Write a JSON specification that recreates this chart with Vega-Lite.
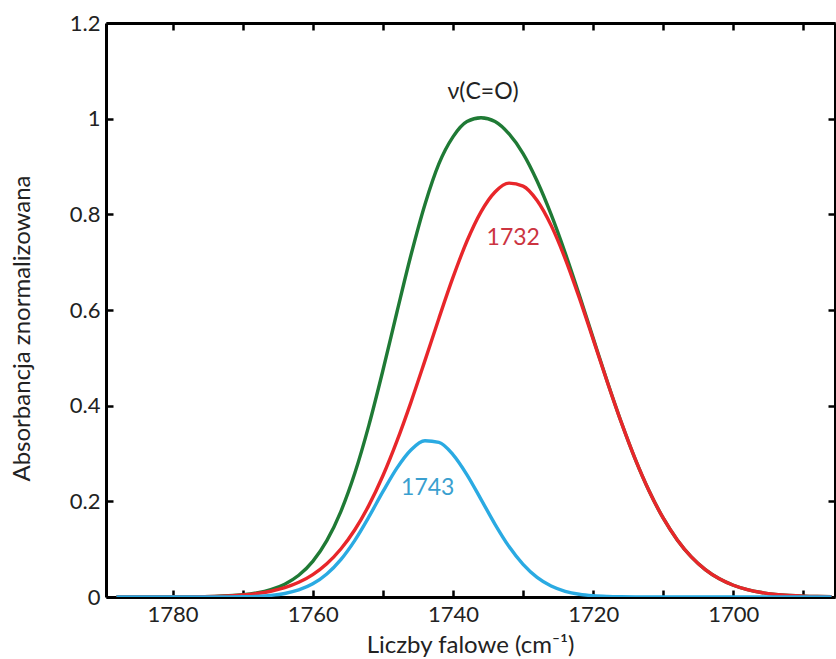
{
  "$schema": "https://vega.github.io/schema/vega-lite/v6.json",
  "width": 729,
  "height": 574,
  "autosize": "none",
  "padding": {"left": 106, "top": 23, "right": 1, "bottom": 62},
  "background": "white",
  "config": {
    "view": {"stroke": null},
    "font": "Lato",
    "axis": {
      "grid": false,
      "domainColor": "black",
      "domainWidth": 3,
      "tickColor": "black",
      "tickWidth": 2.5,
      "tickSize": -7,
      "labelFont": "Lato",
      "labelFontSize": 22,
      "labelColor": "#222222",
      "titleFont": "Lato",
      "titleFontSize": 24,
      "titleFontWeight": "normal",
      "titleColor": "#222222"
    }
  },
  "datasets": {
    "spectra": [
      {"x":1686,"y":0.0005,"s":"r"},{"x":1688,"y":0.001,"s":"r"},{"x":1690,"y":0.0018,"s":"r"},{"x":1692,"y":0.0032,"s":"r"},{"x":1694,"y":0.0055,"s":"r"},{"x":1696,"y":0.0094,"s":"r"},{"x":1698,"y":0.0154,"s":"r"},{"x":1700,"y":0.0246,"s":"r"},{"x":1702,"y":0.038,"s":"r"},{"x":1704,"y":0.0573,"s":"r"},{"x":1706,"y":0.0838,"s":"r"},{"x":1708,"y":0.1192,"s":"r"},{"x":1710,"y":0.1647,"s":"r"},{"x":1712,"y":0.2211,"s":"r"},{"x":1714,"y":0.2883,"s":"r"},{"x":1716,"y":0.3655,"s":"r"},{"x":1718,"y":0.4501,"s":"r"},{"x":1720,"y":0.5386,"s":"r"},{"x":1722,"y":0.6263,"s":"r"},{"x":1724,"y":0.7076,"s":"r"},{"x":1726,"y":0.7769,"s":"r"},{"x":1728,"y":0.8288,"s":"r"},{"x":1730,"y":0.859,"s":"r"},{"x":1732,"y":0.8652,"s":"r"},{"x":1734,"y":0.8468,"s":"r"},{"x":1736,"y":0.8053,"s":"r"},{"x":1738,"y":0.7442,"s":"r"},{"x":1740,"y":0.6681,"s":"r"},{"x":1742,"y":0.5829,"s":"r"},{"x":1744,"y":0.4941,"s":"r"},{"x":1746,"y":0.407,"s":"r"},{"x":1748,"y":0.3258,"s":"r"},{"x":1750,"y":0.2534,"s":"r"},{"x":1752,"y":0.1915,"s":"r"},{"x":1754,"y":0.1406,"s":"r"},{"x":1756,"y":0.1004,"s":"r"},{"x":1758,"y":0.0696,"s":"r"},{"x":1760,"y":0.0469,"s":"r"},{"x":1762,"y":0.0307,"s":"r"},{"x":1764,"y":0.0195,"s":"r"},{"x":1766,"y":0.0121,"s":"r"},{"x":1768,"y":0.0073,"s":"r"},{"x":1770,"y":0.0042,"s":"r"},{"x":1772,"y":0.0024,"s":"r"},{"x":1774,"y":0.0013,"s":"r"},{"x":1776,"y":0.0006,"s":"r"},{"x":1778,"y":0,"s":"r"},{"x":1782,"y":0,"s":"r"},{"x":1788,"y":0,"s":"r"},
      {"x":1686,"y":0,"s":"b"},{"x":1700,"y":0,"s":"b"},{"x":1710,"y":0,"s":"b"},{"x":1714,"y":0.0001,"s":"b"},{"x":1716,"y":0.0004,"s":"b"},{"x":1718,"y":0.0011,"s":"b"},{"x":1720,"y":0.0026,"s":"b"},{"x":1722,"y":0.0058,"s":"b"},{"x":1724,"y":0.012,"s":"b"},{"x":1726,"y":0.0229,"s":"b"},{"x":1728,"y":0.0409,"s":"b"},{"x":1730,"y":0.0681,"s":"b"},{"x":1732,"y":0.1054,"s":"b"},{"x":1734,"y":0.152,"s":"b"},{"x":1736,"y":0.2042,"s":"b"},{"x":1738,"y":0.2555,"s":"b"},{"x":1740,"y":0.2977,"s":"b"},{"x":1742,"y":0.3231,"s":"b"},{"x":1744,"y":0.3266,"s":"b"},{"x":1746,"y":0.3074,"s":"b"},{"x":1748,"y":0.2695,"s":"b"},{"x":1750,"y":0.2201,"s":"b"},{"x":1752,"y":0.1674,"s":"b"},{"x":1754,"y":0.1185,"s":"b"},{"x":1756,"y":0.0782,"s":"b"},{"x":1758,"y":0.0481,"s":"b"},{"x":1760,"y":0.0275,"s":"b"},{"x":1762,"y":0.0147,"s":"b"},{"x":1764,"y":0.0073,"s":"b"},{"x":1766,"y":0.0034,"s":"b"},{"x":1768,"y":0.0014,"s":"b"},{"x":1770,"y":0.0006,"s":"b"},{"x":1772,"y":0.0002,"s":"b"},{"x":1776,"y":0,"s":"b"},{"x":1788,"y":0,"s":"b"},
      {"x":1686,"y":0.0005,"s":"g"},{"x":1688,"y":0.001,"s":"g"},{"x":1690,"y":0.0018,"s":"g"},{"x":1692,"y":0.0032,"s":"g"},{"x":1694,"y":0.0055,"s":"g"},{"x":1696,"y":0.0094,"s":"g"},{"x":1698,"y":0.0154,"s":"g"},{"x":1700,"y":0.0246,"s":"g"},{"x":1702,"y":0.038,"s":"g"},{"x":1704,"y":0.0573,"s":"g"},{"x":1706,"y":0.0838,"s":"g"},{"x":1708,"y":0.1192,"s":"g"},{"x":1710,"y":0.1647,"s":"g"},{"x":1712,"y":0.2211,"s":"g"},{"x":1714,"y":0.2884,"s":"g"},{"x":1716,"y":0.3659,"s":"g"},{"x":1718,"y":0.4512,"s":"g"},{"x":1720,"y":0.5412,"s":"g"},{"x":1722,"y":0.6321,"s":"g"},{"x":1724,"y":0.7196,"s":"g"},{"x":1726,"y":0.7998,"s":"g"},{"x":1728,"y":0.8697,"s":"g"},{"x":1730,"y":0.9271,"s":"g"},{"x":1732,"y":0.968,"s":"g"},{"x":1734,"y":0.994,"s":"g"},{"x":1736,"y":1.002,"s":"g"},{"x":1738,"y":0.994,"s":"g"},{"x":1740,"y":0.962,"s":"g"},{"x":1742,"y":0.906,"s":"g"},{"x":1744,"y":0.8207,"s":"g"},{"x":1746,"y":0.7144,"s":"g"},{"x":1748,"y":0.5953,"s":"g"},{"x":1750,"y":0.4735,"s":"g"},{"x":1752,"y":0.3589,"s":"g"},{"x":1754,"y":0.2591,"s":"g"},{"x":1756,"y":0.1786,"s":"g"},{"x":1758,"y":0.1177,"s":"g"},{"x":1760,"y":0.0744,"s":"g"},{"x":1762,"y":0.0454,"s":"g"},{"x":1764,"y":0.0268,"s":"g"},{"x":1766,"y":0.0155,"s":"g"},{"x":1768,"y":0.0087,"s":"g"},{"x":1770,"y":0.0048,"s":"g"},{"x":1772,"y":0.0026,"s":"g"},{"x":1774,"y":0.0013,"s":"g"},{"x":1776,"y":0.0006,"s":"g"},{"x":1778,"y":0,"s":"g"},{"x":1782,"y":0,"s":"g"},{"x":1788,"y":0,"s":"g"}
    ],
    "labels": [
      {"x": 1735.7, "y": 1.056, "t": "ν(C=O)", "k": "g"},
      {"x": 1731.4, "y": 0.751, "t": "1732", "k": "r"},
      {"x": 1743.6, "y": 0.228, "t": "1743", "k": "b"}
    ]
  },
  "layer": [
    {
      "data": {"name": "spectra"},
      "transform": [{"filter": "datum.s == 'g'"}],
      "mark": {"type": "line", "color": "#1f7a35", "strokeWidth": 3.4, "interpolate": "monotone", "clip": true},
      "encoding": {
        "x": {
          "field": "x", "type": "quantitative",
          "scale": {"domain": [1685.5, 1789.5], "reverse": true, "nice": false, "zero": false},
          "axis": {
            "orient": "bottom",
            "values": [1690, 1700, 1710, 1720, 1730, 1740, 1750, 1760, 1770, 1780],
            "labelExpr": "datum.value % 20 == 0 ? datum.label : ''",
            "format": "d",
            "labelPadding": 14,
            "title": "Liczby falowe (cm⁻¹)",
            "titleX": 364,
            "titleY": 48,
            "titleBaseline": "middle"
          }
        },
        "y": {
          "field": "y", "type": "quantitative",
          "scale": {"domain": [0, 1.2], "nice": false},
          "axis": {
            "orient": "left",
            "values": [0, 0.2, 0.4, 0.6, 0.8, 1, 1.2],
            "format": "~g",
            "labelPadding": 13,
            "title": "Absorbancja znormalizowana",
            "titleX": -84,
            "titleY": 305,
            "titleAngle": -90,
            "titleBaseline": "middle"
          }
        }
      }
    },
    {
      "data": {"name": "spectra"},
      "transform": [{"filter": "datum.s == 'r'"}],
      "mark": {"type": "line", "color": "#e8262a", "strokeWidth": 3.4, "interpolate": "monotone", "clip": true},
      "encoding": {
        "x": {"field": "x", "type": "quantitative", "axis": null},
        "y": {"field": "y", "type": "quantitative", "axis": null}
      }
    },
    {
      "data": {"name": "spectra"},
      "transform": [{"filter": "datum.s == 'b'"}],
      "mark": {"type": "line", "color": "#2aaae2", "strokeWidth": 3.4, "interpolate": "monotone", "clip": true},
      "encoding": {
        "x": {"field": "x", "type": "quantitative", "axis": null},
        "y": {"field": "y", "type": "quantitative", "axis": null}
      }
    },
    {
      "data": {"name": "spectra"},
      "mark": {"type": "point", "opacity": 0},
      "encoding": {
        "x": {
          "field": "x", "type": "quantitative",
          "axis": {
            "orient": "top",
            "values": [1690, 1700, 1710, 1720, 1730, 1740, 1750, 1760, 1770, 1780],
            "labels": false,
            "title": null
          }
        },
        "y": {
          "field": "y", "type": "quantitative",
          "axis": {
            "orient": "right",
            "values": [0, 0.2, 0.4, 0.6, 0.8, 1, 1.2],
            "labels": false,
            "title": null
          }
        }
      }
    },
    {
      "data": {"name": "labels"},
      "transform": [{"filter": "datum.k == 'g'"}],
      "mark": {"type": "text", "fontSize": 23, "font": "Lato", "color": "#222222", "align": "center", "baseline": "middle"},
      "encoding": {
        "x": {"field": "x", "type": "quantitative", "axis": null},
        "y": {"field": "y", "type": "quantitative", "axis": null},
        "text": {"field": "t"}
      }
    },
    {
      "data": {"name": "labels"},
      "transform": [{"filter": "datum.k == 'r'"}],
      "mark": {"type": "text", "fontSize": 23, "font": "Lato", "color": "#cc3440", "align": "center", "baseline": "middle"},
      "encoding": {
        "x": {"field": "x", "type": "quantitative", "axis": null},
        "y": {"field": "y", "type": "quantitative", "axis": null},
        "text": {"field": "t"}
      }
    },
    {
      "data": {"name": "labels"},
      "transform": [{"filter": "datum.k == 'b'"}],
      "mark": {"type": "text", "fontSize": 23, "font": "Lato", "color": "#3a9fcf", "align": "center", "baseline": "middle"},
      "encoding": {
        "x": {"field": "x", "type": "quantitative", "axis": null},
        "y": {"field": "y", "type": "quantitative", "axis": null},
        "text": {"field": "t"}
      }
    }
  ],
  "resolve": {"axis": {"x": "independent", "y": "independent"}}
}
